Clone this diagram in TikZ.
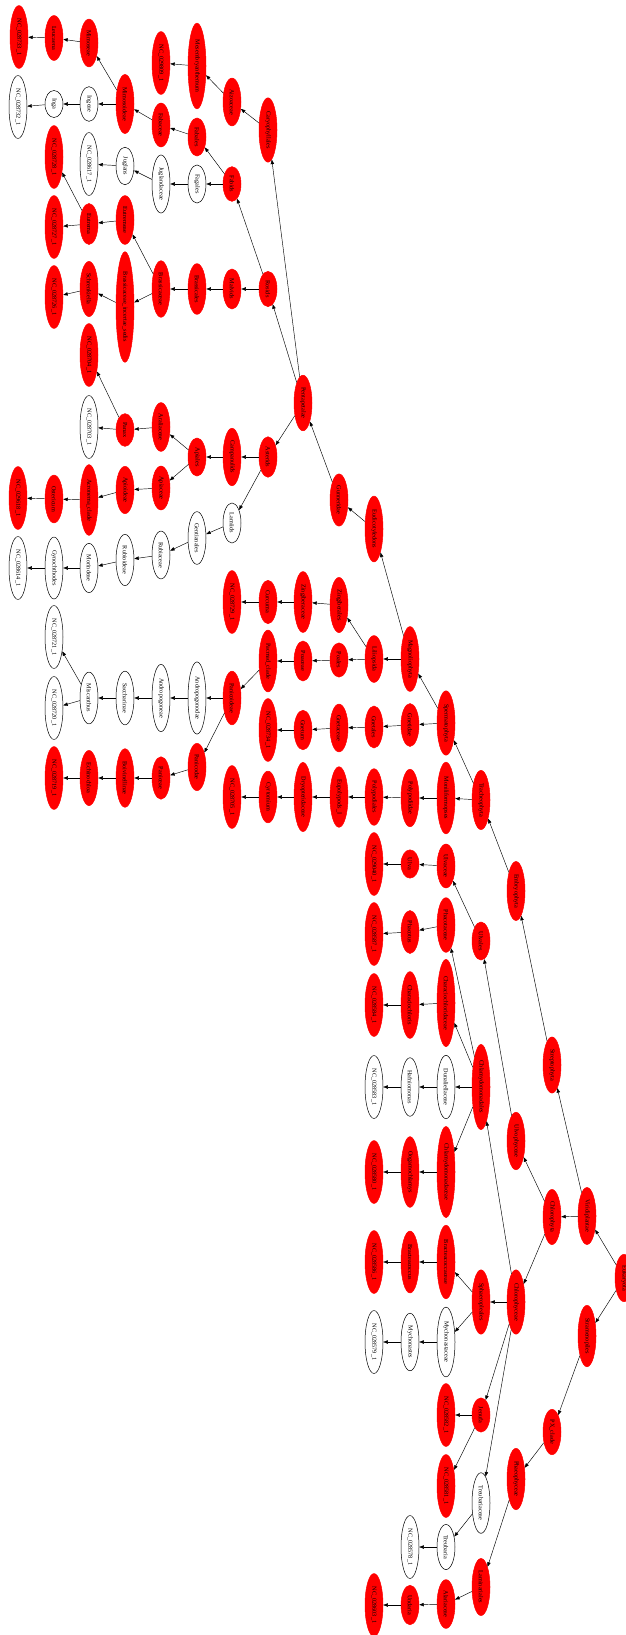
\documentclass[tikz,border=0pt]{standalone}
\usepackage{fontspec}
\setmainfont{Liberation Serif}
\usetikzlibrary{shapes.geometric,arrows.meta}
\begin{document}
\begin{tikzpicture}[x=1pt,y=-1pt,every node/.style={font=\fontsize{6.2}{7}\selectfont},
  taxon/.style={ellipse,rotate=-90,minimum width=27pt,minimum height=18pt,inner xsep=4pt,inner ysep=1pt,line width=0.5pt},
  hit/.style={taxon,fill=red,draw=red},
  nohit/.style={taxon,fill=white,draw=black},
  arr/.style={-{Triangle[length=4.5pt,width=3.4pt]},line width=0.45pt}]
\useasboundingbox (0,0) rectangle (626,1635);
\node[hit] (eukaryota) at (624,1278) {Eukaryota};
\node[hit] (viridiplantae) at (587,1216) {Viridiplantae};
\node[hit] (stramenopiles) at (587,1336) {Stramenopiles};
\node[hit] (streptophyta) at (552,1065) {Streptophyta};
\node[hit] (chlorophyta) at (552,1217) {Chlorophyta};
\node[hit] (pxclade) at (552,1432) {PX\_clade};
\node[hit] (embryophyta) at (516,891) {Embryophyta};
\node[hit] (ulvophyceae) at (516,1141) {Ulvophyceae};
\node[hit] (chlorophyceae) at (516,1302) {Chlorophyceae};
\node[hit] (phaeophyceae) at (516,1479) {Phaeophyceae};
\node[hit] (tracheophyta) at (481,800) {Tracheophyta};
\node[hit] (ulvales) at (481,941) {Ulvales};
\node[hit] (chlamydomonadales) at (481,1087) {Chlamydomonadales};
\node[hit] (sphaeropleales) at (481,1302) {Sphaeropleales};
\node[hit] (jenufa) at (481,1415) {Jenufa};
\node[nohit] (treubariaceae) at (481,1503) {Treubariaceae};
\node[hit] (laminariales) at (481,1587) {Laminariales};
\node[hit] (spermatophyta) at (446,723) {Spermatophyta};
\node[hit] (moniliformopses) at (446,798) {Moniliformopses};
\node[hit] (ulvaceae) at (446,866) {Ulvaceae};
\node[hit] (phacotaceae) at (446,925) {Phacotaceae};
\node[hit] (characiochloridaceae) at (446,1003) {Characiochloridaceae};
\node[nohit] (dunaliellaceae) at (446,1087) {Dunaliellaceae};
\node[hit] (chlamydomonadaceae) at (446,1172) {Chlamydomonadaceae};
\node[hit] (bracteacoccaceae) at (446,1262) {Bracteacoccaceae};
\node[nohit] (mychonastaceae) at (446,1342) {Mychonastaceae};
\node[hit] (nc582) at (446,1415) {NC\_028582\_1};
\node[hit] (nc581) at (446,1486) {NC\_028581\_1};
\node[nohit] (treubaria) at (446,1547) {Treubaria};
\node[hit] (alariaceae) at (446,1604) {Alariaceae};
\node[hit] (magnoliophyta) at (410,659) {Magnoliophyta};
\node[hit] (gnetidae) at (410,725) {Gnetidae};
\node[hit] (polypodiidae) at (410,798) {Polypodiidae};
\node[hit] (ulva) at (410,864) {Ulva};
\node[hit] (phacotus) at (410,932) {Phacotus};
\node[hit] (characiochloris) at (410,1005) {Characiochloris};
\node[nohit] (hafniomonas) at (410,1087) {Hafniomonas};
\node[hit] (oogamochlamys) at (410,1172) {Oogamochlamys};
\node[hit] (bracteacoccus) at (410,1262) {Bracteacoccus};
\node[nohit] (mychonastes) at (410,1342) {Mychonastes};
\node[nohit] (nc578) at (410,1547) {NC\_028578\_1};
\node[hit] (undaria) at (410,1605) {Undaria};
\node[hit] (eudicotyledons) at (374,529) {Eudicotyledons};
\node[hit] (liliopsida) at (374,659) {Liliopsida};
\node[hit] (gnetales) at (374,727) {Gnetales};
\node[hit] (polypodiales) at (374,797) {Polypodiales};
\node[hit] (nc040) at (374,864) {NC\_029040\_1};
\node[hit] (nc587) at (374,934) {NC\_028587\_1};
\node[hit] (nc584) at (374,1005) {NC\_028584\_1};
\node[nohit] (nc583) at (374,1087) {NC\_028583\_1};
\node[hit] (nc580) at (374,1172) {NC\_028580\_1};
\node[hit] (nc586) at (374,1262) {NC\_028586\_1};
\node[nohit] (nc579) at (374,1342) {NC\_028579\_1};
\node[hit] (nc603) at (374,1605) {NC\_028603\_1};
\node[hit] (gunneridae) at (339,500) {Gunneridae};
\node[hit] (zingiberales) at (339,605) {Zingiberales};
\node[hit] (poales) at (339,660) {Poales};
\node[hit] (gnetaceae) at (339,728) {Gnetaceae};
\node[hit] (eupolypods) at (339,797) {Eupolypods\_I};
\node[hit] (pentapetalae) at (303,403) {Pentapetalae};
\node[hit] (zingiberaceae) at (303,602) {Zingiberaceae};
\node[hit] (poaceae) at (303,661) {Poaceae};
\node[hit] (gnetum) at (303,730) {Gnetum};
\node[hit] (dryopteridaceae) at (303,797) {Dryopteridaceae};
\node[hit] (caryophyllales) at (268,130) {Caryophyllales};
\node[hit] (rosids) at (268,289) {Rosids};
\node[hit] (asterids) at (268,457) {Asterids};
\node[hit] (curcuma) at (268,602) {Curcuma};
\node[hit] (pacmad) at (268,661) {Pacmad\_clade};
\node[hit] (nc734) at (268,730) {NC\_028734\_1};
\node[hit] (cyrtomium) at (268,797) {Cyrtomium};
\node[hit] (aizoaceae) at (232,102) {Aizoaceae};
\node[hit] (fabids) at (232,184) {Fabids};
\node[hit] (malvids) at (232,289) {Malvids};
\node[hit] (campanulids) at (232,457) {Campanulids};
\node[nohit] (lamiids) at (232,523) {Lamiids};
\node[hit] (nc729) at (232,602) {NC\_028729\_1};
\node[hit] (panicoideae) at (232,698) {Panicoideae};
\node[hit] (nc705) at (232,797) {NC\_028705\_1};
\node[hit] (mesembryanthemum) at (197,66) {Mesembryanthemum};
\node[hit] (fabales) at (197,137) {Fabales};
\node[nohit] (fagales) at (197,184) {Fagales};
\node[hit] (brassicales) at (197,289) {Brassicales};
\node[hit] (apiales) at (197,457) {Apiales};
\node[nohit] (gentianales) at (197,538) {Gentianales};
\node[nohit] (andropogonodae) at (197,698) {Andropogonodae};
\node[hit] (panicodae) at (197,767) {Panicodae};
\node[hit] (nc809) at (161,63) {NC\_029809\_1};
\node[hit] (fabaceae) at (161,125) {Fabaceae};
\node[nohit] (juglandaceae) at (161,184) {Juglandaceae};
\node[hit] (brassicaceae) at (161,289) {Brassicaceae};
\node[hit] (araliaceae) at (161,427) {Araliaceae};
\node[hit] (apiaceae) at (161,488) {Apiaceae};
\node[nohit] (rubiaceae) at (161,555) {Rubiaceae};
\node[nohit] (andropogoneae) at (161,698) {Andropogoneae};
\node[hit] (paniceae) at (161,778) {Paniceae};
\node[hit] (mimosoideae) at (125,104) {Mimosoideae};
\node[nohit] (juglans) at (125,166) {Juglans};
\node[hit] (eutremeae) at (125,220) {Eutremeae};
\node[hit] (incertae) at (125,307) {Brassicaceae\_incertae\_sedis};
\node[hit] (panax) at (125,430) {Panax};
\node[hit] (apioideae) at (125,490) {Apioideae};
\node[nohit] (rubioideae) at (125,560) {Rubioideae};
\node[nohit] (saccharinae) at (125,698) {Saccharinae};
\node[hit] (boivinellinae) at (125,778) {Boivinellinae};
\node[hit] (mimoseae) at (89,43) {Mimoseae};
\node[nohit] (ingeae) at (89,104) {Ingeae};
\node[nohit] (nc617) at (89,164) {NC\_028617\_1};
\node[hit] (eutrema) at (89,224) {Eutrema};
\node[hit] (schrenkiella) at (89,289) {Schrenkiella};
\node[hit] (nc704) at (89,355) {NC\_028704\_1};
\node[nohit] (nc703) at (89,427) {NC\_028703\_1};
\node[hit] (acronema) at (89,500) {Acronema\_clade};
\node[nohit] (morindeae) at (89,568) {Morindeae};
\node[nohit] (miscanthus) at (89,698) {Miscanthus};
\node[hit] (echinochloa) at (89,778) {Echinochloa};
\node[hit] (leucaena) at (54,38) {Leucaena};
\node[nohit] (inga) at (54,104) {Inga};
\node[hit] (nc728) at (54,157) {NC\_028728\_1};
\node[hit] (nc727) at (54,227) {NC\_028727\_1};
\node[hit] (nc726) at (54,297) {NC\_028726\_1};
\node[hit] (ostericum) at (54,499) {Ostericum};
\node[nohit] (gynochthodes) at (54,568) {Gynochthodes};
\node[nohit] (nc721) at (54,637) {NC\_028721\_1};
\node[nohit] (nc720) at (54,708) {NC\_028720\_1};
\node[hit] (nc719) at (54,778) {NC\_028719\_1};
\node[hit] (nc733) at (19,37) {NC\_028733\_1};
\node[nohit] (nc732) at (18,107) {NC\_028732\_1};
\node[hit] (nc618) at (18,498) {NC\_029618\_1};
\node[nohit] (nc614) at (18,568) {NC\_028614\_1};
\draw[arr] (eukaryota) -- (viridiplantae);
\draw[arr] (eukaryota) -- (stramenopiles);
\draw[arr] (viridiplantae) -- (streptophyta);
\draw[arr] (viridiplantae) -- (chlorophyta);
\draw[arr] (stramenopiles) -- (pxclade);
\draw[arr] (pxclade) -- (phaeophyceae);
\draw[arr] (phaeophyceae) -- (laminariales);
\draw[arr] (laminariales) -- (alariaceae);
\draw[arr] (alariaceae) -- (undaria);
\draw[arr] (undaria) -- (nc603);
\draw[arr] (streptophyta) -- (embryophyta);
\draw[arr] (embryophyta) -- (tracheophyta);
\draw[arr] (tracheophyta) -- (moniliformopses);
\draw[arr] (tracheophyta) -- (spermatophyta);
\draw[arr] (moniliformopses) -- (polypodiidae);
\draw[arr] (polypodiidae) -- (polypodiales);
\draw[arr] (polypodiales) -- (eupolypods);
\draw[arr] (eupolypods) -- (dryopteridaceae);
\draw[arr] (dryopteridaceae) -- (cyrtomium);
\draw[arr] (cyrtomium) -- (nc705);
\draw[arr] (spermatophyta) -- (gnetidae);
\draw[arr] (gnetidae) -- (gnetales);
\draw[arr] (gnetales) -- (gnetaceae);
\draw[arr] (gnetaceae) -- (gnetum);
\draw[arr] (gnetum) -- (nc734);
\draw[arr] (spermatophyta) -- (magnoliophyta);
\draw[arr] (magnoliophyta) -- (liliopsida);
\draw[arr] (magnoliophyta) -- (eudicotyledons);
\draw[arr] (liliopsida) -- (zingiberales);
\draw[arr] (liliopsida) -- (poales);
\draw[arr] (zingiberales) -- (zingiberaceae);
\draw[arr] (zingiberaceae) -- (curcuma);
\draw[arr] (curcuma) -- (nc729);
\draw[arr] (poales) -- (poaceae);
\draw[arr] (poaceae) -- (pacmad);
\draw[arr] (pacmad) -- (panicoideae);
\draw[arr] (panicoideae) -- (andropogonodae);
\draw[arr] (panicoideae) -- (panicodae);
\draw[arr] (andropogonodae) -- (andropogoneae);
\draw[arr] (andropogoneae) -- (saccharinae);
\draw[arr] (saccharinae) -- (miscanthus);
\draw[arr] (miscanthus) -- (nc721);
\draw[arr] (miscanthus) -- (nc720);
\draw[arr] (panicodae) -- (paniceae);
\draw[arr] (paniceae) -- (boivinellinae);
\draw[arr] (boivinellinae) -- (echinochloa);
\draw[arr] (echinochloa) -- (nc719);
\draw[arr] (eudicotyledons) -- (gunneridae);
\draw[arr] (gunneridae) -- (pentapetalae);
\draw[arr] (pentapetalae) -- (caryophyllales);
\draw[arr] (pentapetalae) -- (rosids);
\draw[arr] (pentapetalae) -- (asterids);
\draw[arr] (caryophyllales) -- (aizoaceae);
\draw[arr] (aizoaceae) -- (mesembryanthemum);
\draw[arr] (mesembryanthemum) -- (nc809);
\draw[arr] (rosids) -- (fabids);
\draw[arr] (rosids) -- (malvids);
\draw[arr] (fabids) -- (fabales);
\draw[arr] (fabids) -- (fagales);
\draw[arr] (fabales) -- (fabaceae);
\draw[arr] (fabaceae) -- (mimosoideae);
\draw[arr] (mimosoideae) -- (mimoseae);
\draw[arr] (mimosoideae) -- (ingeae);
\draw[arr] (mimoseae) -- (leucaena);
\draw[arr] (leucaena) -- (nc733);
\draw[arr] (ingeae) -- (inga);
\draw[arr] (inga) -- (nc732);
\draw[arr] (fagales) -- (juglandaceae);
\draw[arr] (juglandaceae) -- (juglans);
\draw[arr] (juglans) -- (nc617);
\draw[arr] (malvids) -- (brassicales);
\draw[arr] (brassicales) -- (brassicaceae);
\draw[arr] (brassicaceae) -- (eutremeae);
\draw[arr] (brassicaceae) -- (incertae);
\draw[arr] (eutremeae) -- (eutrema);
\draw[arr] (eutrema) -- (nc728);
\draw[arr] (eutrema) -- (nc727);
\draw[arr] (incertae) -- (schrenkiella);
\draw[arr] (schrenkiella) -- (nc726);
\draw[arr] (asterids) -- (campanulids);
\draw[arr] (asterids) -- (lamiids);
\draw[arr] (campanulids) -- (apiales);
\draw[arr] (apiales) -- (araliaceae);
\draw[arr] (apiales) -- (apiaceae);
\draw[arr] (araliaceae) -- (panax);
\draw[arr] (panax) -- (nc704);
\draw[arr] (panax) -- (nc703);
\draw[arr] (apiaceae) -- (apioideae);
\draw[arr] (apioideae) -- (acronema);
\draw[arr] (acronema) -- (ostericum);
\draw[arr] (ostericum) -- (nc618);
\draw[arr] (lamiids) -- (gentianales);
\draw[arr] (gentianales) -- (rubiaceae);
\draw[arr] (rubiaceae) -- (rubioideae);
\draw[arr] (rubioideae) -- (morindeae);
\draw[arr] (morindeae) -- (gynochthodes);
\draw[arr] (gynochthodes) -- (nc614);
\draw[arr] (chlorophyta) -- (ulvophyceae);
\draw[arr] (chlorophyta) -- (chlorophyceae);
\draw[arr] (ulvophyceae) -- (ulvales);
\draw[arr] (ulvales) -- (ulvaceae);
\draw[arr] (ulvaceae) -- (ulva);
\draw[arr] (ulva) -- (nc040);
\draw[arr] (chlorophyceae) -- (chlamydomonadales);
\draw[arr] (chlorophyceae) -- (sphaeropleales);
\draw[arr] (chlorophyceae) -- (jenufa);
\draw[arr] (chlorophyceae) -- (treubariaceae);
\draw[arr] (chlamydomonadales) -- (phacotaceae);
\draw[arr] (chlamydomonadales) -- (characiochloridaceae);
\draw[arr] (chlamydomonadales) -- (dunaliellaceae);
\draw[arr] (chlamydomonadales) -- (chlamydomonadaceae);
\draw[arr] (phacotaceae) -- (phacotus);
\draw[arr] (phacotus) -- (nc587);
\draw[arr] (characiochloridaceae) -- (characiochloris);
\draw[arr] (characiochloris) -- (nc584);
\draw[arr] (dunaliellaceae) -- (hafniomonas);
\draw[arr] (hafniomonas) -- (nc583);
\draw[arr] (chlamydomonadaceae) -- (oogamochlamys);
\draw[arr] (oogamochlamys) -- (nc580);
\draw[arr] (sphaeropleales) -- (bracteacoccaceae);
\draw[arr] (sphaeropleales) -- (mychonastaceae);
\draw[arr] (bracteacoccaceae) -- (bracteacoccus);
\draw[arr] (bracteacoccus) -- (nc586);
\draw[arr] (mychonastaceae) -- (mychonastes);
\draw[arr] (mychonastes) -- (nc579);
\draw[arr] (jenufa) -- (nc582);
\draw[arr] (jenufa) -- (nc581);
\draw[arr] (treubariaceae) -- (treubaria);
\draw[arr] (treubaria) -- (nc578);
\end{tikzpicture}
\end{document}
